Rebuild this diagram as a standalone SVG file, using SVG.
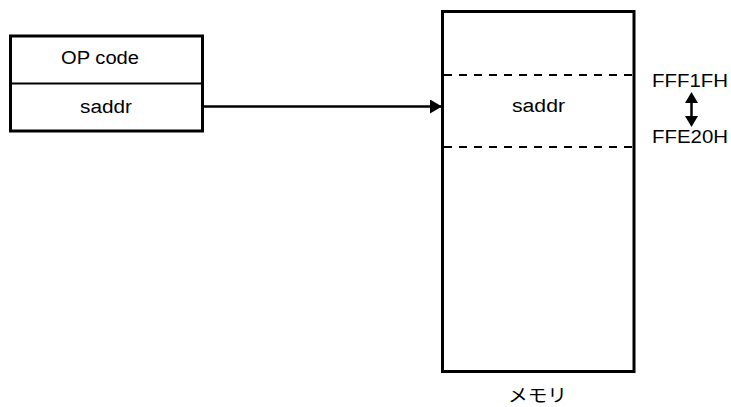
<svg xmlns="http://www.w3.org/2000/svg" width="731" height="407" viewBox="0 0 731 407">
<style>
.box{fill:#fff;stroke:#000;stroke-width:3}
.div{stroke:#000;stroke-width:2}
.dash{stroke:#000;stroke-width:2;stroke-dasharray:8 7}
.t{font-family:"Liberation Sans",Arial,sans-serif;font-size:18px;fill:#000}
.j{font-family:"Liberation Sans","Noto Sans CJK JP",sans-serif;font-size:18px;fill:#000}
.ln{stroke:#000;stroke-width:2.5;fill:none}
</style>
<defs>
<marker id="ah" markerWidth="12" markerHeight="14" refX="12" refY="7" orient="auto" markerUnits="userSpaceOnUse">
<path d="M0,0 L12,7 L0,14 Z" fill="#000"/>
</marker>
</defs>
<g id="instruction">
<rect class="box" x="10.5" y="36" width="192" height="95"/>
<line class="div" x1="10.5" y1="83.5" x2="202.5" y2="83.5"/>
<text class="t" x="61" y="64" textLength="78" lengthAdjust="spacingAndGlyphs">OP code</text>
<text class="t" x="80" y="113" textLength="52" lengthAdjust="spacingAndGlyphs">saddr</text>
</g>
<g id="memory">
<rect class="box" x="442.5" y="11.5" width="191.5" height="360"/>
<line class="dash" x1="444" y1="75" x2="633" y2="75"/>
<line class="dash" x1="444" y1="147" x2="633" y2="147"/>
<text class="t" x="512" y="112" textLength="53" lengthAdjust="spacingAndGlyphs">saddr</text>
<text class="j" x="508" y="402" textLength="59" lengthAdjust="spacingAndGlyphs">メモリ</text>
</g>
<g id="range">
<text class="t" x="652" y="87" textLength="76" lengthAdjust="spacingAndGlyphs">FFF1FH</text>
<text class="t" x="652" y="143" textLength="76" lengthAdjust="spacingAndGlyphs">FFE20H</text>
</g>
<g id="connectors">
<line class="ln" x1="203" y1="106.5" x2="442" y2="106.5" marker-end="url(#ah)"/>
<line x1="691.5" y1="100" x2="691.5" y2="119" stroke="#000" stroke-width="2.5"/>
<path d="M691.5,92 L698,103 L685,103 Z" fill="#000"/>
<path d="M691.5,127 L698,116 L685,116 Z" fill="#000"/>
</g>
</svg>
